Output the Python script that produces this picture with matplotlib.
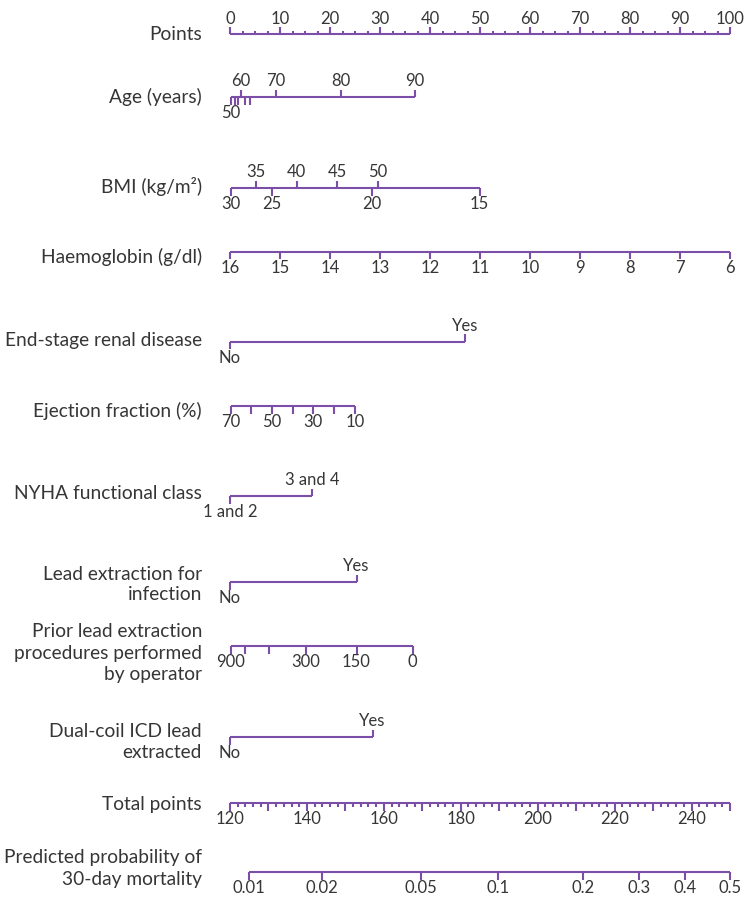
import numpy as np
import matplotlib.pyplot as plt

plt.rcParams['font.family'] = ['Lato', 'DejaVu Sans']

PURPLE = '#7b4fa8'
TEXT = '#363636'

# ---- data (positions in "points", 0-100) ----
points_major = [0, 10, 20, 30, 40, 50, 60, 70, 80, 90, 100]
points_minor = np.arange(0, 100.1, 2.5)

age_labels = ['50', '60', '70', '80', '90']
age_pts = [0.1, 2.1, 9.2, 22.2, 36.9]
age_side = ['down', 'up', 'up', 'up', 'up']
age_extra_pts = [0.9, 1.6, 3.0, 3.9]

bmi_labels = ['30', '25', '20', '15', '35', '40', '45', '50']
bmi_pts = [0.1, 8.3, 28.3, 49.9, 5.2, 13.3, 21.4, 29.5]
bmi_side = ['down'] * 4 + ['up'] * 4

hb_labels = ['16', '15', '14', '13', '12', '11', '10', '9', '8', '7', '6']
hb_pts = [0, 10, 20, 30, 40, 50, 60, 70, 80, 90, 100]

esrd_labels = ['No', 'Yes']
esrd_pts = [0, 47.0]

ef_labels = ['70', '', '50', '', '30', '', '10']
ef_pts = [0.1, 4.1, 8.3, 12.5, 16.5, 20.7, 25.0]

nyha_labels = ['1 and 2', '3 and 4']
nyha_pts = [0, 16.4]

infection_labels = ['No', 'Yes']
infection_pts = [0, 25.3]

prior_labels = ['900', '', '', '300', '150', '0']
prior_pts = [0.1, 3.0, 7.8, 15.1, 25.3, 36.5]

dualcoil_labels = ['No', 'Yes']
dualcoil_pts = [0, 28.5]

total_min, total_max = 120, 250
total_labels = [120, 140, 160, 180, 200, 220, 240]

prob_labels = ['0.01', '0.02', '0.05', '0.1', '0.2', '0.3', '0.4', '0.5']
prob_total = [124.9, 143.9, 169.7, 189.7, 211.7, 226.4, 238.3, 250.0]

# row titles: (lines, baselines in px)
titles = [
    (['Points'], [40.5]),
    (['Age (years)'], [103]),
    (['BMI (kg/m²)'], [193]),
    (['Haemoglobin (g/dl)'], [263]),
    (['End-stage renal disease'], [346]),
    (['Ejection fraction (%)'], [416.5]),
    (['NYHA functional class'], [499]),
    (['Lead extraction for', 'infection'], [579.5, 600]),
    (['Prior lead extraction', 'procedures performed', 'by operator'], [637, 658.5, 680]),
    (['Dual-coil ICD lead', 'extracted'], [737, 757.5]),
    (['Total points'], [810]),
    (['Predicted probability of', '30-day mortality'], [863.5, 885]),
]

# ---- figure: x in points units (0 -> px 230, 100 -> px 730), y in px ----
fig = plt.figure(figsize=(7.5, 8.98), dpi=100)
ax = fig.add_axes([0, 0, 1, 1])
ax.set_xlim(-46, 104)
ax.set_ylim(898, 0)
ax.axis('off')

LW = 1.5
TICK = 7.5
FS_TICK = 12
FS_LABEL = 13.8


def total_to_pts(t):
    return (np.asarray(t, dtype=float) - total_min) / (total_max - total_min) * 100


def scale_row(y, pts, labels, sides=None, ticklen=TICK, extra=None, extra_side='down'):
    if sides is None:
        sides = ['down'] * len(pts)
    allp = list(pts) + (list(extra) if extra is not None else [])
    ax.plot([min(allp), max(allp)], [y, y], color=PURPLE, lw=LW, solid_capstyle='butt')
    for p, lab, s in zip(pts, labels, sides):
        d = -1 if s == 'up' else 1
        ax.plot([p, p], [y, y + d * ticklen], color=PURPLE, lw=LW, solid_capstyle='butt')
        if lab:
            if s == 'up':
                ax.text(p, y - ticklen - 3.5, lab, ha='center', va='baseline',
                        fontsize=FS_TICK, color=TEXT)
            else:
                ax.text(p, y + ticklen + 0.5, lab, ha='center', va='top',
                        fontsize=FS_TICK, color=TEXT)
    if extra is not None:
        d = -1 if extra_side == 'up' else 1
        for p in extra:
            ax.plot([p, p], [y, y + d * ticklen], color=PURPLE, lw=LW, solid_capstyle='butt')


# Points
y = 34
ax.plot([0, 100], [y, y], color=PURPLE, lw=LW, solid_capstyle='butt')
for p in points_minor:
    ax.plot([p, p], [y, y - 3.5], color=PURPLE, lw=LW, solid_capstyle='butt')
for p in points_major:
    ax.plot([p, p], [y, y - 7.5], color=PURPLE, lw=LW, solid_capstyle='butt')
    ax.text(p, y - 10.5, str(p), ha='center', va='baseline', fontsize=FS_TICK, color=TEXT)

scale_row(97.3, age_pts, age_labels, age_side, extra=age_extra_pts)
scale_row(188.3, bmi_pts, bmi_labels, bmi_side)
scale_row(251.7, hb_pts, hb_labels)
scale_row(341.7, esrd_pts, esrd_labels, ['down', 'up'])
scale_row(406, ef_pts, ef_labels)
scale_row(496, nyha_pts, nyha_labels, ['down', 'up'])
scale_row(582, infection_pts, infection_labels, ['down', 'up'])
scale_row(646, prior_pts, prior_labels)
scale_row(737, dualcoil_pts, dualcoil_labels, ['down', 'up'])

# Total points
y = 803
tt_all = np.arange(total_min, total_max + 0.1, 2)
ax.plot([0, total_to_pts(total_max)], [y, y], color=PURPLE, lw=LW, solid_capstyle='butt')
for t in tt_all:
    ln = 7.5 if t % 10 == 0 else 3.5
    p = total_to_pts(t)
    ax.plot([p, p], [y, y + ln], color=PURPLE, lw=LW, solid_capstyle='butt')
for t in total_labels:
    ax.text(total_to_pts(t), y + 8, str(t), ha='center', va='top',
            fontsize=FS_TICK, color=TEXT)

# Predicted probability
scale_row(872, total_to_pts(prob_total), prob_labels)

# Row titles
for lines, bases in titles:
    for txt, b in zip(lines, bases):
        ax.text(-5.6, b, txt, ha='right', va='baseline', fontsize=FS_LABEL, color=TEXT)

fig.savefig('out.png', dpi=100, facecolor='white')
